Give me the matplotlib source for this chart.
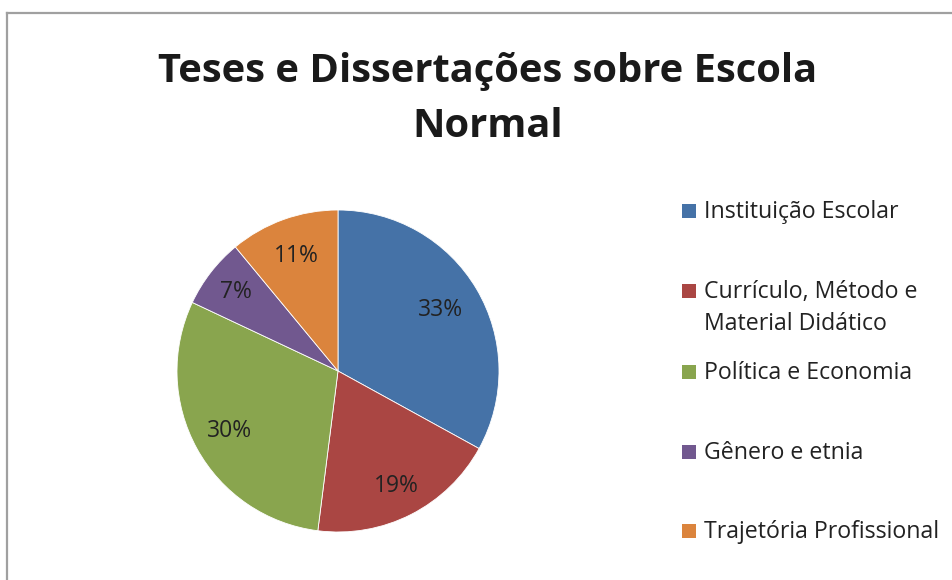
import matplotlib
matplotlib.use("Agg")
import matplotlib.pyplot as plt
from matplotlib.patches import Rectangle
from matplotlib.lines import Line2D
import numpy as np

title = "Teses e Dissertações sobre Escola\nNormal"
categories = ["Instituição Escolar", "Currículo, Método e\nMaterial Didático",
              "Política e Economia", "Gênero e etnia", "Trajetória Profissional"]
values = [33, 19, 30, 7, 11]
colors = ["#4572A7", "#AA4643", "#89A54E", "#71588F", "#DB843D"]
label_dist = [0.74, 0.80, 0.77, 0.80, 0.76]

plt.rcParams['font.family'] = ['Open Sans', 'DejaVu Sans']

W, H = 953, 580
fig = plt.figure(figsize=(W / 100, H / 100), dpi=100)

# border (top and left)
fig.add_artist(Line2D([7.5 / W, 1.0], [1 - 12.5 / H, 1 - 12.5 / H], color="#A0A0A0", lw=1.6))
fig.add_artist(Line2D([7.5 / W, 7.5 / W], [0, 1 - 12.5 / H], color="#A0A0A0", lw=1.6))

cx, cy, r = 338, 371, 161
ax = fig.add_axes([(cx - r) / W, (H - cy - r) / H, 2 * r / W, 2 * r / H])
wedges, _ = ax.pie(values, colors=colors, startangle=90, counterclock=False,
                   wedgeprops=dict(edgecolor="white", linewidth=0.6))
ax.set_xlim(-1, 1)
ax.set_ylim(-1, 1)
ax.set_aspect("auto")
ax.axis("off")

for w, v, d in zip(wedges, values, label_dist):
    th = np.deg2rad((w.theta1 + w.theta2) / 2)
    ax.text(d * np.cos(th), d * np.sin(th), f"{v}%", ha="center", va="center",
            fontsize=16.5, color="#222222")

fig.text(488 / W, 1 - 99 / H, title, ha="center", va="center", fontsize=28.7,
         fontweight="bold", color="#1a1a1a", linespacing=1.52)

# legend
legend_y = [211, 291, 372, 452, 531]
for lab, col, y in zip(categories, colors, legend_y):
    fig.add_artist(Rectangle((682 / W, 1 - (y + 7) / H), 14 / W, 14 / H,
                             facecolor=col, edgecolor="none", transform=fig.transFigure))
    if "\n" in lab:
        fig.text(704 / W, 1 - (y + 17) / H, lab, ha="left", va="center",
                 fontsize=16.7, color="#222222", linespacing=1.45)
    else:
        fig.text(704 / W, 1 - (y + 1) / H, lab, ha="left", va="center",
                 fontsize=16.7, color="#222222")

fig.savefig("out.png", dpi=100, facecolor="white")
